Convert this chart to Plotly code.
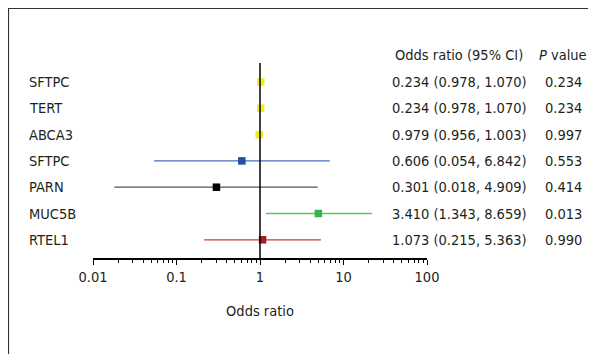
import plotly.graph_objects as go

# ---- data ----
genes = ["SFTPC", "TERT", "ABCA3", "SFTPC", "PARN", "MUC5B", "RTEL1"]
# plotted estimate and CI (as drawn in the figure)
plot_or = [1.02, 1.02, 0.979, 0.606, 0.301, 5.0, 1.073]
plot_lo = [0.978, 0.978, 0.956, 0.054, 0.018, 1.18, 0.215]
plot_hi = [1.070, 1.070, 1.003, 6.842, 4.909, 22.0, 5.363]
# printed text columns
or_text = ["0.234 (0.978, 1.070)", "0.234 (0.978, 1.070)", "0.979 (0.956, 1.003)",
           "0.606 (0.054, 6.842)", "0.301 (0.018, 4.909)", "3.410 (1.343, 8.659)",
           "1.073 (0.215, 5.363)"]
p_text = ["0.234", "0.234", "0.997", "0.553", "0.414", "0.013", "0.990"]
tick_vals = [0.01, 0.1, 1, 10, 100]
tick_text = ["0.01", "0.1", "1", "10", "100"]

line_colors = ["#eeec1a", "#eeec1a", "#eeec1a", "#4a6fbf", "#555555", "#5cc85c", "#c8383c"]
marker_colors = ["#f0ee18", "#f0ee18", "#f0ee18", "#1f4fa8", "#000000", "#3cb44b", "#a51c22"]

FONT = "DejaVu Sans Condensed, Liberation Sans Narrow, sans-serif"
FS = 14.5
TXT = "#231f20"

OFF = 8  # page body margin
W, H = 596 - OFF, 354 - OFF
L, R = 93 - OFF, 427 - OFF      # plot area x pixels
T, B = 63 - OFF, 258 - OFF      # plot area y pixels
row0, dy = 82 - OFF, 26.3

fig = go.Figure()
for i in range(len(genes)):
    fig.add_trace(go.Scatter(
        x=[plot_or[i]], y=[i], mode="markers",
        marker=dict(symbol="square", size=7.5, color=marker_colors[i],
                    line=dict(width=0)),
        error_x=dict(type="data", symmetric=False,
                     array=[plot_hi[i] - plot_or[i]],
                     arrayminus=[plot_or[i] - plot_lo[i]],
                     color=line_colors[i], thickness=1.3, width=0),
        showlegend=False, hoverinfo="skip"))

ytop = (T - row0) / dy
ybot = (B - row0) / dy

def px(xp):
    return (xp - OFF - L) / (R - L)

def py(yp):
    return (B - (yp - OFF)) / (B - T)

annotations = []
for i, g in enumerate(genes):
    annotations.append(dict(x=px(27), xref="paper", y=i, yref="y", text=g,
                            xanchor="left", yanchor="middle", showarrow=False,
                            font=dict(family=FONT, size=FS, color=TXT)))
    annotations.append(dict(x=px(459), xref="paper", y=i, yref="y", text=or_text[i],
                            xanchor="center", yanchor="middle", showarrow=False,
                            font=dict(family=FONT, size=FS, color=TXT)))
    annotations.append(dict(x=px(563), xref="paper", y=i, yref="y", text=p_text[i],
                            xanchor="center", yanchor="middle", showarrow=False,
                            font=dict(family=FONT, size=FS, color=TXT)))
annotations.append(dict(x=px(459), xref="paper", y=py(55), yref="paper",
                        text="Odds ratio (95% CI)", xanchor="center", yanchor="middle",
                        showarrow=False, font=dict(family=FONT, size=FS, color=TXT)))
annotations.append(dict(x=px(563), xref="paper", y=py(55), yref="paper",
                        text="<i>P</i> value", xanchor="center", yanchor="middle",
                        showarrow=False, font=dict(family=FONT, size=FS, color=TXT)))

shapes = [
    dict(type="line", xref="x", yref="paper", x0=1, x1=1, y0=0, y1=1,
         line=dict(color="black", width=1.5)),
    dict(type="line", xref="paper", yref="paper", x0=px(8), x1=px(600),
         y0=py(8.5), y1=py(8.5), line=dict(color="#333333", width=1.2)),
    dict(type="line", xref="paper", yref="paper", x0=px(8.5), x1=px(8.5),
         y0=py(8.5), y1=py(360), line=dict(color="#333333", width=1.2)),
]

fig.update_layout(
    width=W, height=H,
    margin=dict(l=L, r=W - R, t=T, b=H - B, pad=0),
    paper_bgcolor="white", plot_bgcolor="white",
    font=dict(family=FONT, size=FS, color=TXT),
    annotations=annotations, shapes=shapes,
    xaxis=dict(type="log", range=[-2, 2], tickvals=tick_vals, ticktext=tick_text,
               showgrid=False, zeroline=False, showline=True, linecolor="black",
               linewidth=1.5, ticks="outside", ticklen=5, tickwidth=1.2,
               tickcolor="black", tickfont=dict(family=FONT, size=FS, color=TXT),
               minor=dict(ticks="outside", ticklen=3, tickcolor="black", tickwidth=1,
                          dtick="D1", showgrid=False),
               title=dict(text="Odds ratio", font=dict(family=FONT, size=FS, color=TXT),
                          standoff=22)),
    yaxis=dict(range=[ybot, ytop], showgrid=False, zeroline=False, showline=False,
               showticklabels=False, ticks=""),
)

fig.write_html("out.html")
